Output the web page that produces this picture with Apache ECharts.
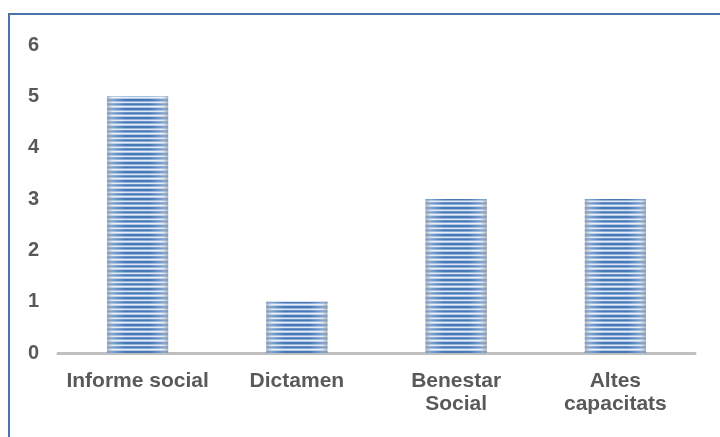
<!DOCTYPE html>
<html><head><meta charset="utf-8">
<script src="https://cdn.jsdelivr.net/npm/echarts@6/dist/echarts.min.js"></script>
<style>html,body{margin:0;padding:0;background:#fff}#frame{position:absolute;left:8px;top:13px;width:720px;height:440px;border-left:2px solid #4a74aa;border-top:2px solid #4a74aa;}#c{position:absolute;left:0;top:0;width:720px;height:437px}</style>
</head><body><div id="frame"></div><div id="c"></div>
<script>
var categories = ['Informe social', 'Dictamen', 'Benestar\nSocial', 'Altes\ncapacitats'];
var values = [5, 1, 3, 3];
var yTicks = [0, 1, 2, 3, 4, 5, 6];

var pc = document.createElement('canvas');
pc.width = 4; pc.height = 9;
var g = pc.getContext('2d');
g.fillStyle = '#ffffff'; g.fillRect(0, 0, 4, 9);
g.fillStyle = '#4679b9'; g.fillRect(0, 0, 4, 2);
g.fillStyle = '#96b4da'; g.fillRect(0, 2, 4, 1);
g.fillStyle = '#dde7f3'; g.fillRect(0, 3, 4, 1);
g.fillStyle = '#6a92c7'; g.fillRect(0, 4, 4, 1);
g.fillStyle = '#4679b9'; g.fillRect(0, 5, 4, 1);
g.fillStyle = '#88abd6'; g.fillRect(0, 6, 4, 1);
g.fillStyle = '#e8eef7'; g.fillRect(0, 7, 4, 1);
g.fillStyle = '#b0c6e3'; g.fillRect(0, 8, 4, 1);

var chart = echarts.init(document.getElementById('c'), null, {renderer: 'canvas'});
chart.setOption({
  animation: false,
  grid: {left: 58, right: 25, top: 45, bottom: 84},
  xAxis: {
    type: 'category', data: categories,
    axisLine: {lineStyle: {color: '#bfbfbf', width: 3}},
    axisTick: {show: false},
    axisLabel: {color: '#595959', fontFamily: 'Liberation Sans, Arial, sans-serif', fontWeight: 'bold', fontSize: 21, lineHeight: 23, margin: 17, interval: 0}
  },
  yAxis: {
    type: 'value', min: 0, max: 6, interval: 1,
    splitLine: {show: false}, axisLine: {show: false}, axisTick: {show: false},
    axisLabel: {color: '#595959', fontFamily: 'Liberation Sans, Arial, sans-serif', fontWeight: 'bold', fontSize: 20, margin: 19,
      formatter: function (v) { return yTicks.indexOf(v) >= 0 ? String(v) : ''; }}
  },
  series: [
    {type: 'bar', data: values, barWidth: 61, silent: true,
     itemStyle: {color: {image: pc, repeat: 'repeat'}}},
    {type: 'bar', data: values, barWidth: 61, barGap: '-100%', silent: true,
     itemStyle: {color: {type: 'linear', x: 0, y: 0, x2: 1, y2: 0, colorStops: [
       {offset: 0, color: 'rgba(150,160,175,0.75)'},
       {offset: 0.12, color: 'rgba(255,255,255,0.25)'},
       {offset: 0.3, color: 'rgba(255,255,255,0)'},
       {offset: 0.7, color: 'rgba(255,255,255,0)'},
       {offset: 0.88, color: 'rgba(255,255,255,0.25)'},
       {offset: 1, color: 'rgba(150,160,175,0.75)'}]}}}
  ]
});
</script></body></html>
